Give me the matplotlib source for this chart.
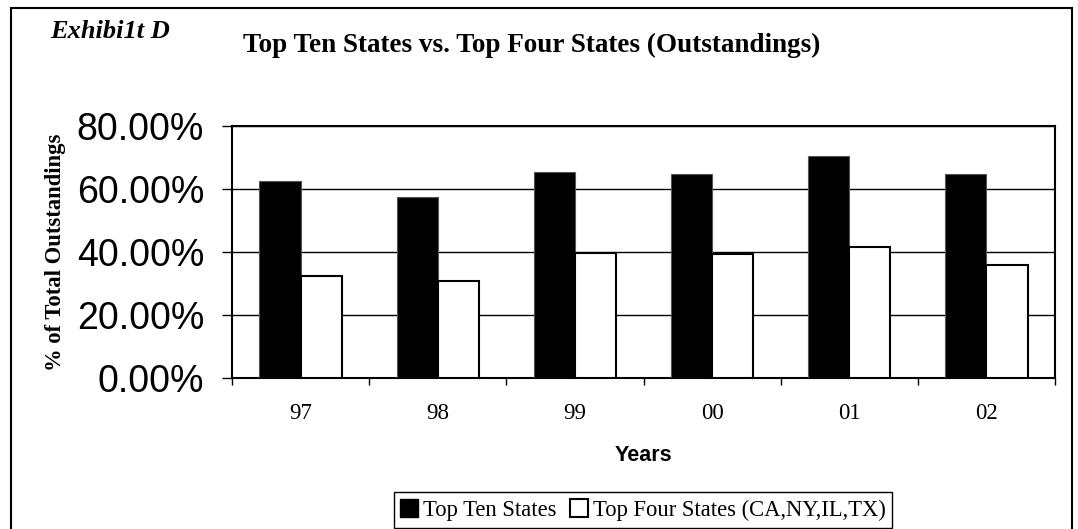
import matplotlib.pyplot as plt
from matplotlib.patches import Patch, Rectangle
from matplotlib.ticker import FuncFormatter

# data (share of total outstandings, %)
years = ["97", "98", "99", "00", "01", "02"]
top_ten = [62.6, 57.5, 65.5, 64.8, 70.5, 64.8]
top_four = [32.5, 30.8, 39.7, 39.5, 41.7, 35.9]
yticks = [0, 20, 40, 60, 80]

serif = "Liberation Serif"
sans = "Liberation Sans"

fig = plt.figure(figsize=(10.78, 5.29), dpi=100)
ax = fig.add_axes([232/1078, 1-378/529, (1055-232)/1078, (378-126)/529])

x = list(range(len(years)))
w = 0.3
ax.bar([i - w/2 for i in x], top_ten, width=w, color="black", edgecolor="#555555", linewidth=0.8, zorder=3)
ax.bar([i + w/2 for i in x], top_four, width=w, color="white", edgecolor="black", linewidth=1.5, zorder=3)

ax.set_xlim(-0.5, len(years) - 0.5)
ax.set_ylim(0, 80)

# y axis
ax.set_yticks(yticks)
ax.yaxis.set_major_formatter(FuncFormatter(lambda v, p: f"{v:.2f}%"))
ax.tick_params(axis="y", direction="out", length=7, width=1, pad=13, labelsize=27)
for lab in ax.get_yticklabels():
    lab.set_fontfamily(sans)
ax.yaxis.grid(True, color="black", linewidth=1, zorder=1)

# x axis: ticks between categories, labels at centres
ax.set_xticks([i - 0.5 for i in range(len(years) + 1)])
ax.set_xticklabels([])
ax.tick_params(axis="x", which="major", direction="out", length=5, width=1)
ax.set_xticks(x, minor=True)
ax.set_xticklabels(years, minor=True, fontfamily=serif, fontsize=16.5)
ax.tick_params(axis="x", which="minor", length=0, pad=18)

for s in ax.spines.values():
    s.set_linewidth(1.5)

ax.set_xlabel("Years", fontfamily=sans, fontweight="bold", fontsize=15.5, labelpad=15)
ax.set_ylabel("% of Total Outstandings", fontfamily=serif, fontweight="bold", fontsize=16.3)
ax.yaxis.set_label_coords(-166/823, 0.5)

fig.text(50/1078, 1-38/529, "Exhibi1t D", fontfamily=serif, fontweight="bold", fontstyle="italic",
         fontsize=19, va="baseline", ha="left")
fig.text(532/1078, 1-52/529, "Top Ten States vs. Top Four States (Outstandings)", fontfamily=serif,
         fontweight="bold", fontsize=19.5, va="baseline", ha="center")

handles = [Patch(facecolor="black", edgecolor="black"),
           Patch(facecolor="white", edgecolor="black", linewidth=1.5)]
leg = fig.legend(handles, ["Top Ten States", "Top Four States (CA,NY,IL,TX)"], loc="center",
                 bbox_to_anchor=(643/1078, 1-510/529), ncol=2, fancybox=False, framealpha=1,
                 edgecolor="black", handlelength=0.8, handleheight=0.8, handletextpad=0.2,
                 columnspacing=0.6, borderpad=0.3, prop={"family": serif, "size": 16.3})
leg.get_frame().set_linewidth(1)

# outer frame round the exhibit
fig.add_artist(Rectangle((11/1078, -0.02), 1061/1078, 1 - 8/529 + 0.02, transform=fig.transFigure,
                         fill=False, edgecolor="black", linewidth=1.5))

fig.savefig("out.png", dpi=100)
